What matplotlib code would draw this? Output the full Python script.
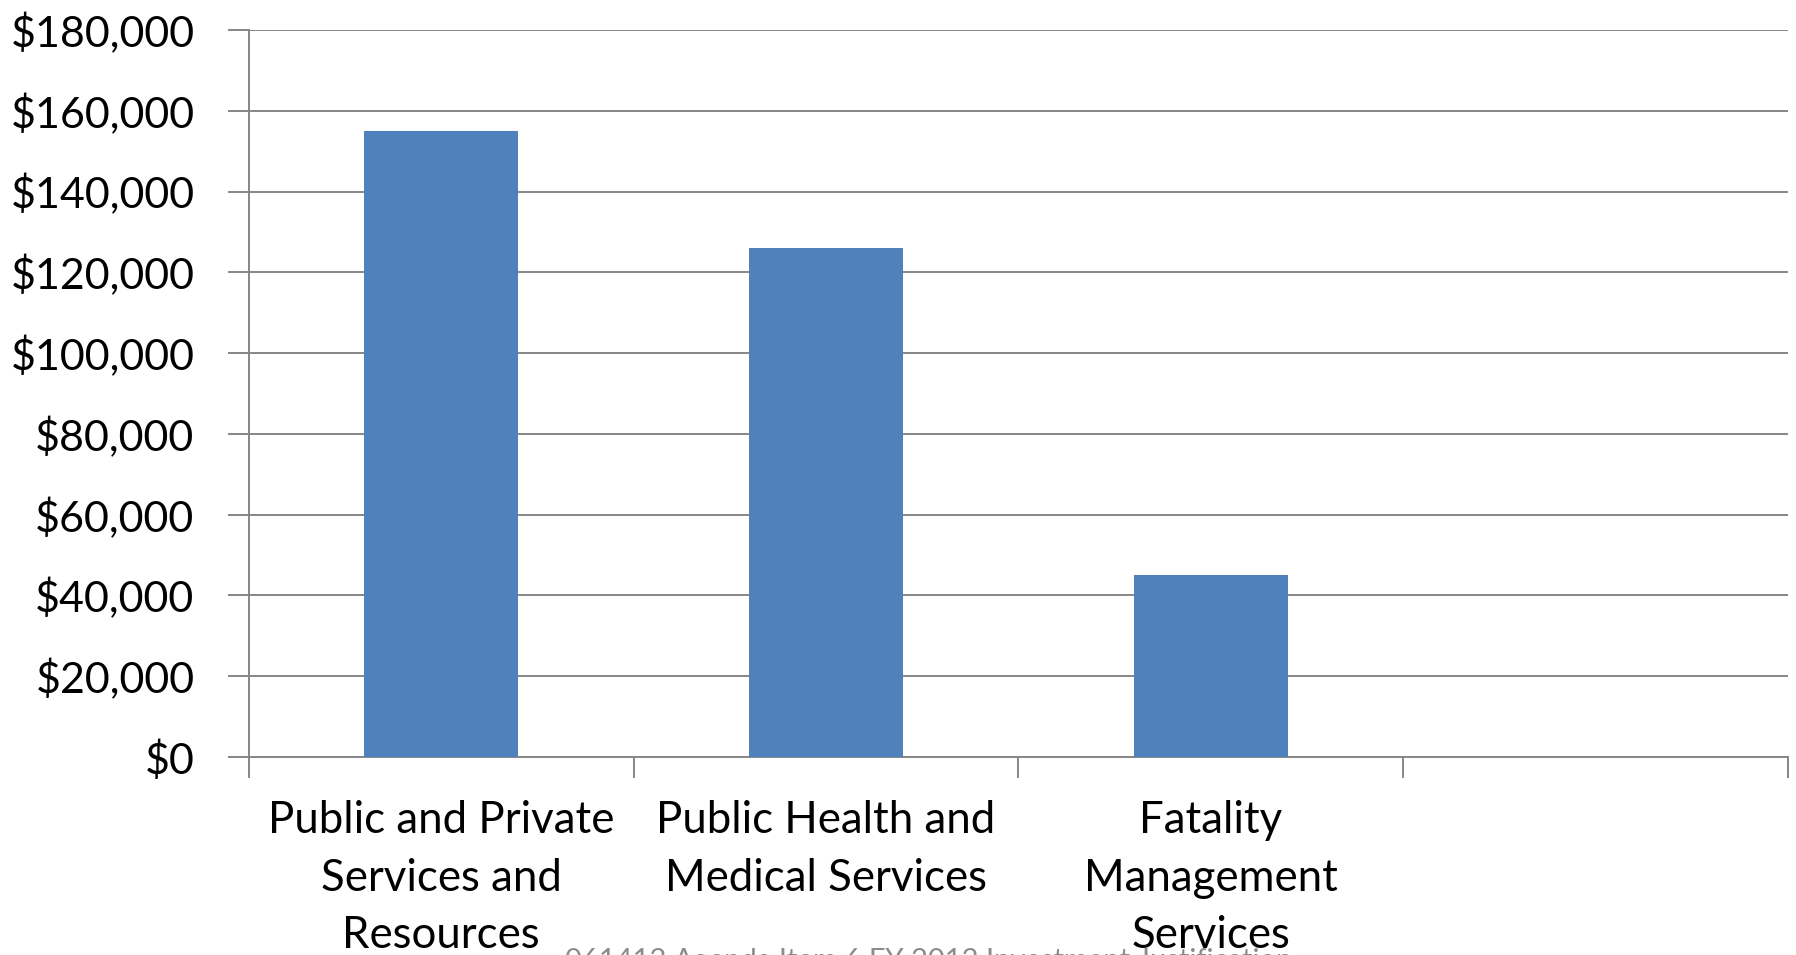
import matplotlib
matplotlib.use("Agg")
import matplotlib.pyplot as plt
from matplotlib.ticker import FuncFormatter, FixedLocator

categories = ["Public and Private\nServices and\nResources",
              "Public Health and\nMedical Services",
              "Fatality\nManagement\nServices",
              ""]
values = [155000, 126000, 45000, None]
y_ticks = [0, 20000, 40000, 60000, 80000, 100000, 120000, 140000, 160000, 180000]
footer = "061412 Agenda Item 6 FY 2012 Investment Justification"

plt.rcParams['font.family'] = ['Lato', 'DejaVu Sans']

fig = plt.figure(figsize=(17.96, 9.55), dpi=100)
ax = fig.add_axes([0.13847, 0.20733, 0.85708, 0.76126])

grid_c = "#868686"
xs = list(range(len(categories)))
bx = [x for x, v in zip(xs, values) if v is not None]
bv = [v for v in values if v is not None]
ax.bar(bx, bv, width=0.4, color="#4F81BD", zorder=3)

ax.set_xlim(-0.5, len(categories) - 0.5)
ax.set_ylim(0, 180000)
ax.set_yticks(y_ticks)
ax.yaxis.set_major_formatter(FuncFormatter(lambda v, p: "${:,.0f}".format(v)))
ax.grid(axis='y', color=grid_c, linewidth=1.4, zorder=1)
ax.set_axisbelow(True)

ax.set_xticks(xs)
ax.set_xticklabels(categories, linespacing=1.5)
ax.xaxis.set_minor_locator(FixedLocator([x - 0.5 for x in xs] + [xs[-1] + 0.5]))

ax.tick_params(axis='y', which='major', length=15, width=1.4, color=grid_c,
               labelsize=31, pad=24, direction='out')
ax.tick_params(axis='x', which='major', length=0, labelsize=31.5, pad=31)
ax.tick_params(axis='x', which='minor', length=15, width=1.4, color=grid_c, direction='out')

for s in ['top', 'right']:
    ax.spines[s].set_visible(False)
for s in ['left', 'bottom']:
    ax.spines[s].set_color(grid_c)
    ax.spines[s].set_linewidth(1.4)

ax.text(0.517, -0.0145, footer, transform=fig.transFigure, ha='center', va='baseline',
        fontsize=21, color="#8C8C8C", zorder=0, clip_on=False)

fig.savefig("out.png", dpi=100, facecolor='white')
